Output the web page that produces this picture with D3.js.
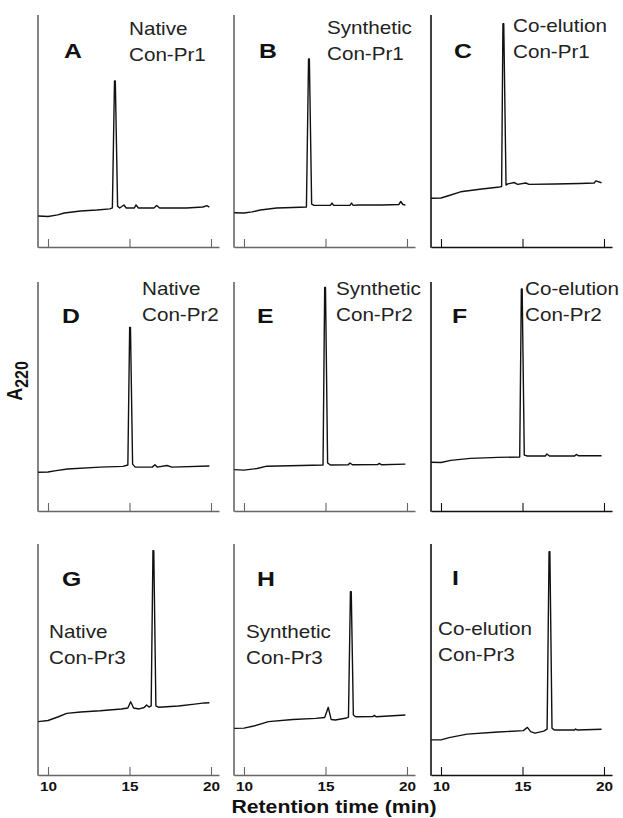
<!DOCTYPE html>
<html>
<head>
<meta charset="utf-8">
<script src="https://cdn.jsdelivr.net/npm/d3@7"></script>
<style>
  body { margin: 0; background: #fff; }
  svg { display: block; font-family: "Liberation Sans", Arial, Helvetica, sans-serif; }
</style>
</head>
<body>
<svg id="chart" width="623" height="818"></svg>
<script>
// panel text
const panelLetters = ['A', 'B', 'C', 'D', 'E', 'F', 'G', 'H', 'I'];
const sampleTypes = ['Native', 'Synthetic', 'Co-elution'];
const peptides = ['Con-Pr1', 'Con-Pr2', 'Con-Pr3'];
const timeTicks = [10, 15, 20];

// chromatograms, [retention time (min), A220 (% of panel height)]
const traceA = [[9.4,13.4],[10.0,13.2],[10.6,13.9],[11.0,14.7],[12.0,15.6],[13.0,16.0],[13.8,16.5],[13.95,16.9],
  [14.08,71.9],[14.13,71.9],[14.27,17.7],[14.4,16.9],[14.66,18.2],[14.8,16.9],[15.3,16.9],[15.4,18.2],[15.55,16.9],
  [16.5,16.9],[16.67,18.0],[16.85,16.9],[18.5,16.9],[19.5,17.3],[19.75,17.9],[19.9,17.3]];
const traceB = [[9.4,14.8],[10.0,14.7],[10.5,15.2],[11.0,16.0],[12.0,16.9],[13.0,17.1],[13.83,17.3],
  [13.96,81.4],[14.01,81.4],[14.15,18.6],[14.3,18.0],[15.3,18.0],[15.4,19.0],[15.5,18.0],[16.5,18.0],[16.6,19.0],
  [16.7,18.0],[17.0,18.2],[18.5,18.2],[19.5,18.4],[19.62,19.7],[19.75,18.4],[19.9,18.2]];
const traceC = [[9.4,21.1],[10.0,21.2],[10.5,22.3],[11.2,23.9],[12.5,25.1],[13.6,26.0],[13.72,26.2],
  [13.8,96.7],[13.85,96.7],[13.99,26.8],[14.1,27.3],[14.5,27.9],[14.7,27.1],[15.2,27.7],[15.4,27.1],[17.0,27.3],
  [18.5,27.5],[19.4,27.7],[19.5,28.6],[19.85,27.8]];
const traceD = [[9.4,16.8],[10.0,16.9],[10.5,17.5],[11.2,18.2],[13.2,19.0],[14.6,19.3],[14.9,19.9],
  [15.01,79.5],[15.06,79.5],[15.19,20.3],[15.35,19.0],[16.4,19.0],[16.56,20.0],[16.7,19.0],[17.3,19.7],[17.6,19.0],[19.9,19.5]];
const traceE = [[9.4,17.9],[10.0,17.7],[10.8,18.4],[11.4,19.4],[13.5,19.7],[14.85,19.9],
  [14.95,96.8],[15.0,96.8],[15.13,20.8],[15.3,19.9],[16.4,20.0],[16.5,20.8],[16.65,20.0],[18.2,20.1],[18.3,20.6],
  [18.45,20.0],[19.9,20.3]];
const traceF = [[9.4,21.1],[10.0,21.0],[10.6,21.9],[11.8,22.8],[13.5,23.2],[14.83,23.4],
  [14.93,96.1],[14.98,96.1],[15.11,24.2],[15.3,23.8],[16.4,23.8],[16.5,24.7],[16.65,23.8],[18.2,23.8],[18.3,24.5],
  [18.45,23.9],[19.85,23.9]];
const traceG = [[9.4,23.1],[10.0,23.6],[10.6,25.1],[11.15,26.7],[12.0,27.3],[13.2,27.8],[14.5,28.6],
  [14.9,29.0],[15.07,31.7],[15.25,29.0],[15.6,28.6],[15.9,29.2],[16.05,30.3],[16.2,29.4],[16.33,29.9],
  [16.44,97.1],[16.49,97.1],[16.62,29.9],[16.8,29.3],[18.0,29.9],[19.0,30.7],[19.6,31.2],[19.9,31.3]];
const traceH = [[9.4,20.2],[10.0,20.3],[10.6,21.2],[11.5,23.1],[13.0,24.0],[14.4,24.5],[14.95,24.9],
  [15.17,29.3],[15.35,24.0],[15.6,23.8],[16.3,24.7],[16.41,25.1],[16.53,79.4],[16.58,79.4],[16.71,26.0],[16.85,25.2],
  [17.9,25.3],[18.0,25.8],[18.1,25.2],[19.9,26.0]];
const traceI = [[9.4,15.2],[10.0,15.2],[10.5,16.2],[11.6,17.7],[13.5,18.6],[15.05,19.2],[15.3,20.6],
  [15.5,18.8],[15.77,18.1],[16.3,19.0],[16.51,19.9],[16.63,96.7],[16.68,96.7],[16.81,20.3],[16.95,19.5],[18.2,19.5],
  [18.25,19.9],[18.35,19.5],[19.85,19.8]];

const traces = [traceA, traceB, traceC, traceD, traceE, traceF, traceG, traceH, traceI];

// layout
const colX = [38, 234, 431];
const rowTop = [15, 282, 544];
const rowBottom = [247, 511, 775];
const panelW = 181;
const panelH = 231;
const stretch = 1.18; // the figure is a little wider than tall type

// text offsets from each panel's top-left corner
const letterPos = [[26,43],[25,43],[23,43],[24,41],[23,41],[21,41],[24,42],[23,42],[21,41]];
const namePos = [[91,20],[93,19],[82,17],[104,13],[102,13],[94,13],[11,94],[12,94],[7,91]];

const svg = d3.select('#chart');

panelLetters.forEach((letter, i) => {
    const row = Math.floor(i / 3), col = i % 3;
    const x0 = colX[col], top = rowTop[row], bottom = rowBottom[row];
    const axisColor = col === 2 ? '#111' : '#666';

    const x = d3.scaleLinear().domain([9.387, 9.387 + panelW / 16.3]).range([x0, x0 + panelW]);
    const y = d3.scaleLinear().domain([0, 100]).range([bottom, bottom - panelH]);

    const g = svg.append('g');

    // x axis with inward ticks
    const ax = g.append('g')
        .attr('transform', `translate(0, ${bottom})`)
        .call(d3.axisBottom(x).tickValues(timeTicks).tickSizeInner(-8).tickSizeOuter(0));
    ax.select('.domain').attr('stroke', axisColor).attr('stroke-width', 1.6);
    ax.selectAll('.tick line').attr('stroke', axisColor).attr('stroke-width', 1.1);
    if (row === 2) {
        ax.selectAll('.tick text')
            .attr('y', 16.5).attr('dy', 0)
            .attr('fill', '#111')
            .attr('font-size', 13).attr('font-weight', 'bold')
            .attr('font-family', '"Liberation Sans", Arial, sans-serif')
            .attr('transform', `scale(${stretch},1)`);
    } else {
        ax.selectAll('.tick text').remove();
    }

    // y axis line, no ticks
    g.append('line')
        .attr('x1', x0).attr('x2', x0)
        .attr('y1', top).attr('y2', bottom + 0.8)
        .attr('stroke', axisColor).attr('stroke-width', 1.6);

    // trace
    g.append('path')
        .datum(traces[i])
        .attr('fill', 'none')
        .attr('stroke', '#111')
        .attr('stroke-width', 1.4)
        .attr('stroke-linejoin', 'round')
        .attr('d', d3.line().x(d => x(d[0])).y(d => y(d[1])));

    // panel letter
    g.append('text')
        .attr('transform', `translate(${x0 + letterPos[i][0]}, ${top + letterPos[i][1]}) scale(${stretch},1)`)
        .attr('font-size', 21).attr('font-weight', 'bold').attr('fill', '#111')
        .text(letter);

    // sample label, two lines
    const lbl = g.append('text')
        .attr('transform', `translate(${x0 + namePos[i][0]}, ${top + namePos[i][1]}) scale(${stretch},1)`)
        .attr('font-size', 17.5).attr('fill', '#222');
    lbl.append('tspan').attr('x', 0).attr('y', 0).text(sampleTypes[col]);
    lbl.append('tspan').attr('x', 0).attr('y', 26).text(peptides[row]);
});

// shared axis titles
svg.append('text')
    .attr('transform', `translate(334, 813) scale(${stretch},1)`)
    .attr('text-anchor', 'middle')
    .attr('font-size', 18).attr('font-weight', 'bold').attr('fill', '#111')
    .text('Retention time (min)');

const yTitle = svg.append('text')
    .attr('transform', `translate(22, 381) rotate(-90) scale(1,${stretch})`)
    .attr('text-anchor', 'middle')
    .attr('font-weight', 'bold').attr('fill', '#111');
yTitle.append('tspan').attr('font-size', 18).text('A');
yTitle.append('tspan').attr('font-size', 16).attr('dy', 5).text('220');
</script>
</body>
</html>
